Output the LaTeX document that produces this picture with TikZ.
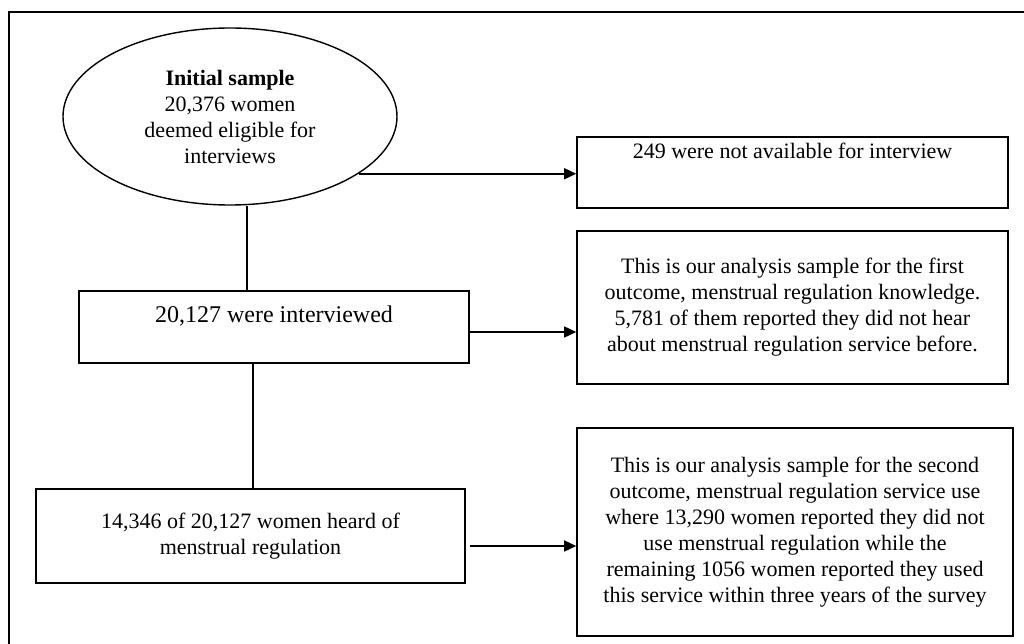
\documentclass[tikz,border=0pt]{standalone}
\usepackage{fontspec}
\setmainfont{Liberation Serif}
\usetikzlibrary{shapes.geometric,arrows.meta}
\begin{document}
\begin{tikzpicture}[x=1pt,y=-1pt,
  box/.style={draw, line width=1.6pt, rectangle, inner sep=0pt, align=center, font=\fontsize{22}{26}\selectfont},
  startel/.style={draw, ellipse, line width=1.4pt, inner sep=0pt, align=center, font=\fontsize{22}{26}\selectfont},
  arr/.style={line width=1.5pt, -{Triangle[length=12pt,width=11pt]}},
  conn/.style={line width=1.5pt}]
\useasboundingbox (0,0) rectangle (1024,644);
\fill[white] (0,0) rectangle (1024,644);
\draw[line width=1.4pt] (9,650) -- (9,12) -- (1030,12);

\node[startel, minimum width=334pt, minimum height=177pt] (ell) at (230,116.5)
  {\textbf{Initial sample}\\20,376 women\\deemed eligible for\\interviews};

\node[box, minimum width=431pt, minimum height=71pt] (b249) at (792.5,172.5)
  {\raisebox{14pt}[0pt][0pt]{249 were not available for interview}};

\node[box, minimum width=390pt, minimum height=72pt, font=\fontsize{24}{28}\selectfont] (box2) at (274,327)
  {\raisebox{5pt}[0pt][0pt]{20,127 were interviewed}};

\node[box, minimum width=431pt, minimum height=153pt] (fo) at (792.5,307.5)
  {This is our analysis sample for the first\\outcome, menstrual regulation knowledge.\\5,781 of them reported they did not hear\\about menstrual regulation service before.};

\node[box, minimum width=429pt, minimum height=94pt] (box3) at (250.5,536)
  {14,346 of 20,127 women heard of\\menstrual regulation};

\node[box, minimum width=436pt, minimum height=208pt] (box4) at (795,532)
  {This is our analysis sample for the second\\outcome, menstrual regulation service use\\where 13,290 women reported they did not\\use menstrual regulation while the\\remaining 1056 women reported they used\\this service within three years of the survey};

\coordinate (j1) at ([xshift=-27pt]box2.north);
\draw[conn] (j1) -- (j1 |- ell.south);
\draw[arr] (ell.-24.4) -- (ell.-24.4 -| b249.west);
\draw[arr] ([yshift=-5pt]box2.east) -- ([yshift=-5pt]box2.east -| fo.west);
\coordinate (j2) at ([xshift=-21pt]box2.south);
\draw[conn] (j2) -- (j2 |- box3.north);
\draw[arr] ([yshift=-10pt,xshift=4pt]box3.east) -- ([yshift=-10pt]box3.east -| box4.west);
\end{tikzpicture}
\end{document}
